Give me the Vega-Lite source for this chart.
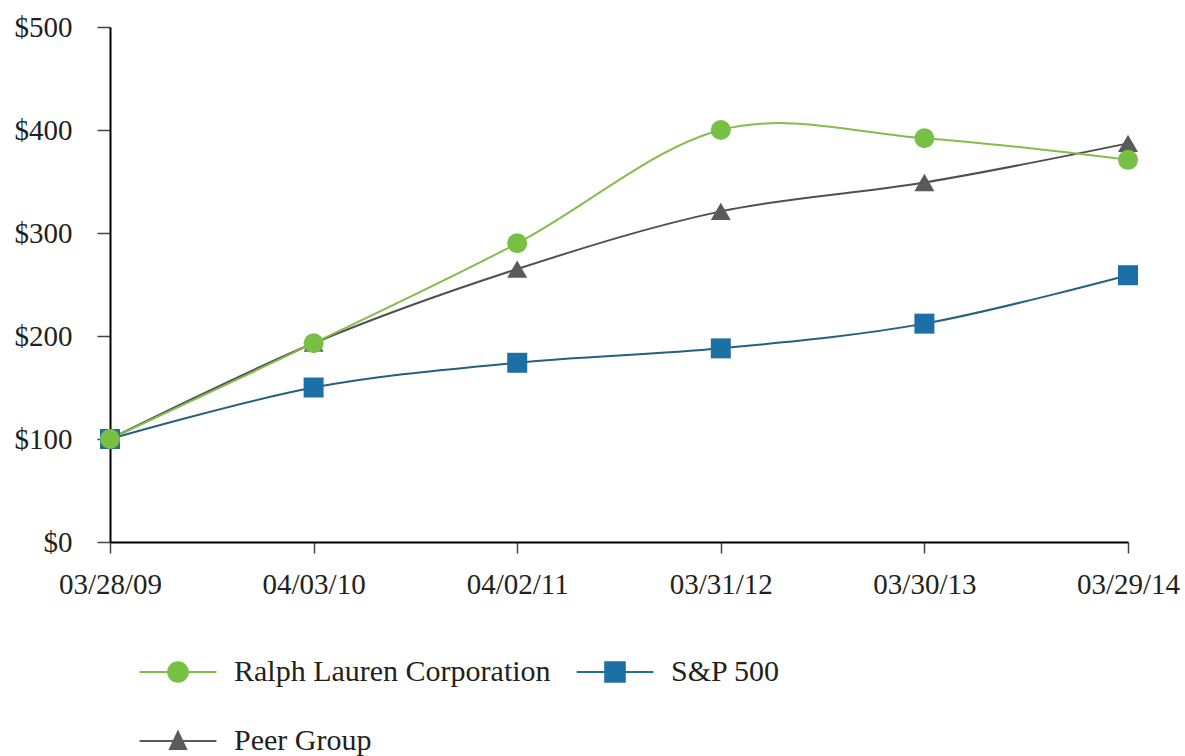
{
  "$schema": "https://vega.github.io/schema/vega-lite/v6.json",
  "width": 1018,
  "height": 515,
  "autosize": "none",
  "padding": {"left": 110, "top": 27, "right": 57, "bottom": 214},
  "background": "white",
  "config": {"view": {"stroke": null}, "font": "Liberation Serif"},
  "data": {
    "values": [
      {"series": "S&P 500", "date": "03/28/09", "value": 100},
      {"series": "S&P 500", "date": "04/03/10", "value": 150},
      {"series": "S&P 500", "date": "04/02/11", "value": 174},
      {"series": "S&P 500", "date": "03/31/12", "value": 188},
      {"series": "S&P 500", "date": "03/30/13", "value": 212},
      {"series": "S&P 500", "date": "03/29/14", "value": 259},
      {"series": "Peer Group", "date": "03/28/09", "value": 100},
      {"series": "Peer Group", "date": "04/03/10", "value": 193},
      {"series": "Peer Group", "date": "04/02/11", "value": 265},
      {"series": "Peer Group", "date": "03/31/12", "value": 321},
      {"series": "Peer Group", "date": "03/30/13", "value": 349},
      {"series": "Peer Group", "date": "03/29/14", "value": 387},
      {"series": "Ralph Lauren Corporation", "date": "03/28/09", "value": 100},
      {"series": "Ralph Lauren Corporation", "date": "04/03/10", "value": 193},
      {"series": "Ralph Lauren Corporation", "date": "04/02/11", "value": 290},
      {"series": "Ralph Lauren Corporation", "date": "03/31/12", "value": 400},
      {"series": "Ralph Lauren Corporation", "date": "03/30/13", "value": 392},
      {"series": "Ralph Lauren Corporation", "date": "03/29/14", "value": 371}
    ]
  },
  "encoding": {
    "x": {
      "field": "date",
      "type": "ordinal",
      "sort": ["03/28/09", "04/03/10", "04/02/11", "03/31/12", "03/30/13", "03/29/14"],
      "scale": {"type": "point", "padding": 0},
      "axis": {
        "title": null,
        "labelAngle": 0,
        "domainColor": "#000000",
        "domainWidth": 2,
        "tickColor": "#444444",
        "tickSize": 11,
        "tickWidth": 1.5,
        "labelFont": "Liberation Serif",
        "labelFontSize": 29,
        "labelColor": "#231f20",
        "labelPadding": 17
      }
    },
    "y": {
      "field": "value",
      "type": "quantitative",
      "scale": {"domain": [0, 500], "nice": false},
      "axis": {
        "title": null,
        "values": [0, 100, 200, 300, 400, 500],
        "format": "$d",
        "grid": false,
        "domainColor": "#000000",
        "domainWidth": 2,
        "tickColor": "#444444",
        "tickSize": 13,
        "tickWidth": 1.5,
        "labelFont": "Liberation Serif",
        "labelFontSize": 29,
        "labelColor": "#231f20",
        "labelPadding": 25
      }
    }
  },
  "layer": [
    {
      "mark": {"type": "line", "interpolate": "cardinal", "strokeWidth": 2},
      "encoding": {
        "stroke": {
          "field": "series",
          "type": "nominal",
          "scale": {
            "domain": ["Ralph Lauren Corporation", "S&P 500", "Peer Group"],
            "range": ["#86bc4a", "#275f80", "#505050"]
          },
          "legend": null
        }
      }
    },
    {
      "mark": {"type": "point", "filled": true, "opacity": 1, "size": 400, "strokeWidth": 0},
      "encoding": {
        "fill": {
          "field": "series",
          "type": "nominal",
          "scale": {
            "domain": ["Ralph Lauren Corporation", "S&P 500", "Peer Group"],
            "range": ["#78c043", "#1c70a6", "#5a5a5a"]
          },
          "legend": null
        },
        "shape": {
          "field": "series",
          "type": "nominal",
          "scale": {
            "domain": ["Ralph Lauren Corporation", "S&P 500", "Peer Group"],
            "range": ["circle", "square", "triangle-up"]
          },
          "legend": null
        }
      }
    },
    {
      "transform": [{"filter": "datum.value < 0"}],
      "mark": {"type": "point", "filled": true, "opacity": 1},
      "encoding": {
        "color": {
          "field": "series",
          "type": "nominal",
          "scale": {
            "domain": ["Ralph Lauren Corporation", "S&P 500", "Peer Group"],
            "range": ["#78c043", "#1c70a6", "#5a5a5a"]
          },
          "legend": {
            "orient": "none",
            "direction": "horizontal",
            "legendX": 44,
            "legendY": 621,
            "columns": 2,
            "title": null,
            "padding": 0,
            "symbolSize": 2304,
            "symbolStrokeWidth": 0,
            "symbolOpacity": 1,
            "labelFont": "Liberation Serif",
            "labelFontSize": 30,
            "labelColor": "#231f20",
            "labelLimit": 600,
            "labelOffset": 32,
            "rowPadding": 30,
            "columnPadding": 25
          }
        },
        "shape": {
          "field": "series",
          "type": "nominal",
          "scale": {
            "domain": ["Ralph Lauren Corporation", "S&P 500", "Peer Group"],
            "range": [
              "M-1.6,-0.045H1.6V0.045H-1.6Z M0.45,0A0.45,0.45 0 1 1 -0.45,0A0.45,0.45 0 1 1 0.45,0Z",
              "M-1.6,-0.045H1.6V0.045H-1.6Z M-0.45,-0.45H0.45V0.45H-0.45Z",
              "M-1.6,-0.045H1.6V0.045H-1.6Z M0,-0.48L0.4,0.38H-0.4Z"
            ]
          },
          "legend": {
            "orient": "none",
            "direction": "horizontal",
            "legendX": 44,
            "legendY": 621,
            "columns": 2,
            "title": null,
            "padding": 0,
            "symbolSize": 2304,
            "symbolStrokeWidth": 0,
            "symbolOpacity": 1,
            "labelFont": "Liberation Serif",
            "labelFontSize": 30,
            "labelColor": "#231f20",
            "labelLimit": 600,
            "labelOffset": 32,
            "rowPadding": 30,
            "columnPadding": 25
          }
        }
      }
    }
  ],
  "resolve": {"scale": {"shape": "independent", "color": "independent"}}
}
